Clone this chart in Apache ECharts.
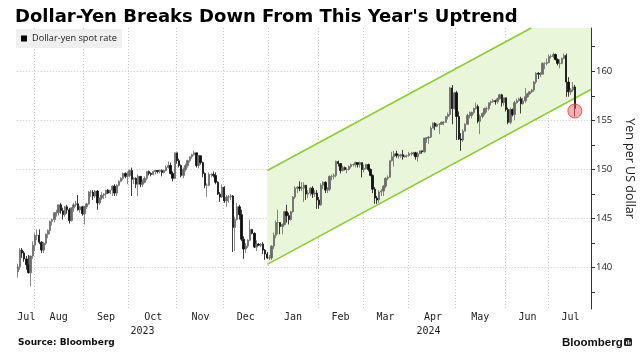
<!DOCTYPE html>
<html>
<head>
<meta charset="utf-8">
<script src="https://cdn.jsdelivr.net/npm/echarts@6.0.0/dist/echarts.min.js"></script>
<style>
html,body{margin:0;padding:0;background:#ffffff;}
#chart{width:644px;height:360px;}
</style>
</head>
<body>
<div id="chart"></div>
<script>
// ---------------- data ----------------
const titleText = "Dollar-Yen Breaks Down From This Year's Uptrend";
const seriesName = 'Dollar-yen spot rate';
const yAxisName = 'Yen per US dollar';
const sourceText = 'Source: Bloomberg';
const brandText = 'Bloomberg';

const firstDate = '2023-07-20';      // first trading day shown
const axisLastDate = '2024-07-26';   // axis runs a little past the data

const monthLabels = ['Jul','Aug','Sep','Oct','Nov','Dec','Jan','Feb','Mar','Apr','May','Jun','Jul'];
const yearLabels = ['2023','2024'];
const yTickValues = [137.5,140,142.5,145,147.5,150,152.5,155,157.5,160,162.5];
const yLabelValues = [140,145,150,155,160];
const yMin = 135.8;
const yMax = 164.4;

const opens = [
139.6,140.1,141.8,141.5,140.9,140.3,139.5,141.2,142.3,143.3,
143.3,142.6,141.8,142.5,143.4,143.8,144.7,144.9,145.6,145.6,
146.4,145.8,145.4,146.2,145.9,144.8,146.1,146.4,146.5,145.9,
146.2,145.5,146.2,146.5,147.7,147.7,147.3,147.8,146.6,147.1,
147.4,147.5,147.9,147.6,147.9,148.3,147.6,148.4,148.8,149.1,
149.6,149.3,149.4,149.9,149.0,149.1,148.5,149.3,148.5,148.7,
149.1,149.8,149.6,149.5,149.8,149.9,149.8,149.9,149.7,149.9,
150.2,150.4,149.6,149.1,151.7,150.9,150.4,149.4,150.0,150.4,
150.9,151.3,151.5,151.7,150.4,151.4,150.7,149.6,148.4,148.4,
149.5,149.5,149.4,148.7,147.5,147.2,148.2,146.8,147.2,147.2,
147.3,144.1,144.9,146.2,145.4,142.9,141.9,142.2,142.8,143.9,
143.5,142.1,142.4,142.3,142.4,141.8,141.4,141.0,141.0,142.2,
143.3,144.6,144.6,144.2,144.4,145.7,145.3,144.9,145.7,147.2,
148.1,148.2,148.1,148.1,148.4,147.5,147.6,148.1,147.5,147.6,
146.9,146.4,148.4,148.7,147.9,148.0,149.3,149.3,149.4,150.8,
150.6,149.9,150.2,150.0,150.0,150.3,150.5,150.5,150.7,150.5,
150.7,150.0,150.1,150.5,150.0,149.4,148.0,147.1,146.9,147.7,
147.8,148.3,149.1,149.2,150.9,151.3,151.6,151.4,151.4,151.5,
151.3,151.4,151.4,151.6,151.6,151.7,151.3,151.6,151.9,151.8,
153.2,153.2,153.3,154.2,154.7,154.4,154.6,154.6,154.8,154.8,
155.4,155.6,158.3,156.2,157.8,155.4,153.1,153.0,153.9,154.6,
155.5,155.5,155.8,156.2,156.4,154.9,155.4,155.7,156.2,156.2,
156.8,156.9,157.0,156.9,157.2,157.6,156.8,157.3,156.1,154.8,
156.1,155.6,156.8,157.0,157.2,156.7,157.0,157.4,157.7,157.9,
158.1,158.9,159.8,159.7,159.7,160.8,160.8,160.9,161.5,161.5,
161.7,161.2,160.8,160.8,161.3,161.6,158.9,157.9,158.1,158.4
];
const highs = [
140.4,142.0,142.0,141.7,141.2,141.3,141.2,142.7,143.5,143.9,
143.9,142.7,142.6,143.5,143.9,144.8,145.0,145.6,145.9,146.4,
146.6,146.1,146.3,146.4,146.1,146.1,146.6,146.8,147.4,146.3,
146.3,146.3,146.6,147.8,147.9,147.9,147.9,147.9,147.1,147.7,
147.6,147.9,148.0,147.9,148.4,148.5,148.5,148.9,149.2,149.7,
149.7,149.8,150.0,150.2,149.2,149.2,149.5,149.3,149.0,149.3,
149.8,149.9,149.7,149.9,149.9,149.9,150.0,150.0,150.0,150.4,
150.8,150.7,149.8,151.7,151.7,151.1,150.5,150.2,150.6,151.0,
151.3,151.6,151.9,151.7,151.4,151.4,150.8,149.7,148.6,149.7,
149.6,149.8,149.7,148.8,147.7,148.5,148.3,147.4,147.4,147.5,
147.4,145.2,146.6,146.4,145.9,143.2,142.5,142.9,144.9,143.9,
143.6,142.8,142.5,142.5,142.6,141.9,141.6,141.3,142.3,143.6,
144.8,145.9,144.6,144.5,145.8,146.4,145.6,145.8,147.3,148.3,
148.3,148.8,148.7,148.7,148.4,147.9,148.2,148.3,147.9,147.9,
147.2,148.6,148.8,148.8,148.2,149.4,149.5,149.6,150.9,150.9,
150.6,150.4,150.3,150.2,150.4,150.6,150.6,150.8,150.7,150.8,
150.7,150.5,150.6,150.6,150.1,149.5,148.2,147.3,147.9,148.0,
148.4,149.2,149.4,150.9,151.8,151.9,151.9,151.6,151.6,152.0,
151.5,151.5,151.8,151.8,151.8,151.8,151.8,151.9,151.9,153.2,
153.3,153.4,154.4,154.8,154.8,154.7,154.7,154.9,154.9,155.4,
155.8,158.4,158.6,157.9,158.0,155.9,153.7,154.1,154.7,155.7,
155.9,155.9,156.3,156.8,156.6,155.6,155.8,156.3,156.4,156.8,
157.0,157.2,157.1,157.3,157.7,157.7,157.3,157.3,156.3,156.3,
156.2,157.0,157.2,157.3,157.4,157.3,158.3,157.8,158.0,158.2,
159.0,159.9,159.9,159.9,160.9,160.9,161.3,161.7,161.7,161.9,
161.8,161.3,161.2,161.4,161.8,161.8,159.4,158.3,158.9,158.6
];
const lows = [
139.0,139.8,141.0,140.6,139.8,139.4,138.1,140.9,141.7,142.8,
142.4,141.5,141.5,142.3,143.0,143.4,144.3,144.6,145.2,145.3,
145.5,144.9,145.2,145.5,144.5,144.7,145.7,146.2,145.8,145.6,
145.3,144.4,146.0,146.4,147.2,146.9,147.1,145.9,146.4,146.9,
147.0,147.1,147.5,147.5,147.3,147.3,147.3,148.3,148.7,148.9,
149.1,148.5,149.2,147.3,148.5,148.1,147.3,148.2,148.2,148.6,
148.9,149.4,149.3,149.4,149.5,149.6,149.6,149.3,149.6,149.8,
150.1,149.5,148.8,149.0,150.6,150.2,149.2,149.1,149.8,150.2,
150.7,151.1,151.4,150.2,150.1,150.5,149.2,148.1,147.2,148.3,
149.2,149.2,148.5,147.4,146.7,147.1,146.6,146.2,146.6,146.9,
141.6,141.7,144.8,144.9,142.7,140.9,141.5,142.0,142.7,143.4,
142.0,141.7,142.2,142.1,141.4,140.8,140.9,140.8,140.8,141.9,
143.0,143.4,143.4,143.4,144.3,144.6,144.4,144.8,145.6,147.0,
147.6,147.8,147.8,146.7,146.9,147.1,147.3,147.1,147.2,146.0,
146.0,146.3,148.0,147.6,147.6,147.8,148.9,149.0,149.2,150.3,
149.6,149.8,149.9,149.6,149.9,150.1,150.3,150.2,150.2,150.2,
149.2,149.7,150.0,149.8,149.3,147.6,146.5,146.5,146.6,147.3,
147.3,148.1,148.9,149.2,150.8,150.3,151.2,151.1,151.2,151.0,
151.2,151.2,151.3,151.4,151.4,151.0,150.8,151.6,151.6,151.7,
152.7,152.6,153.2,154.2,154.0,154.3,153.6,154.6,154.5,154.8,
155.1,155.4,154.6,156.1,153.0,153.0,151.9,152.8,153.9,154.6,
155.2,155.2,155.6,156.1,154.7,153.6,155.2,155.5,155.8,156.0,
156.5,156.8,156.6,156.7,157.1,156.4,156.5,155.9,154.6,154.6,
155.4,155.0,156.7,156.9,155.7,156.6,156.8,157.3,157.6,157.8,
157.9,158.7,159.2,159.4,159.7,160.2,160.6,160.8,161.3,161.3,
161.1,160.6,160.3,160.7,161.2,157.4,157.4,157.6,157.9,155.4
];
const closes = [
140.1,141.8,141.5,140.9,140.3,139.5,141.2,142.3,143.3,143.3,
142.6,141.8,142.5,143.4,143.8,144.7,144.9,145.6,145.6,146.4,
145.8,145.4,146.2,145.9,144.8,146.1,146.4,146.5,145.9,146.2,
145.5,146.2,146.5,147.7,147.7,147.3,147.8,146.6,147.1,147.4,
147.5,147.9,147.6,147.9,148.3,147.6,148.4,148.8,149.1,149.6,
149.3,149.4,149.9,149.0,149.1,148.5,149.3,148.5,148.7,149.1,
149.8,149.6,149.5,149.8,149.9,149.8,149.9,149.7,149.9,150.2,
150.4,149.6,149.1,151.7,150.9,150.4,149.4,150.0,150.4,150.9,
151.3,151.5,151.7,150.4,151.4,150.7,149.6,148.4,148.4,149.5,
149.5,149.4,148.7,147.5,147.2,148.2,146.8,147.2,147.2,147.3,
144.1,144.9,146.2,145.4,142.9,141.9,142.2,142.8,143.9,143.5,
142.1,142.4,142.3,142.4,141.8,141.4,141.0,141.0,142.2,143.3,
144.6,144.6,144.2,144.4,145.7,145.3,144.9,145.7,147.2,148.1,
148.2,148.1,148.1,148.4,147.5,147.6,148.1,147.5,147.6,146.9,
146.4,148.4,148.7,147.9,148.0,149.3,149.3,149.4,150.8,150.6,
149.9,150.2,150.0,150.0,150.3,150.5,150.5,150.7,150.5,150.7,
150.0,150.1,150.5,150.0,149.4,148.0,147.1,146.9,147.7,147.8,
148.3,149.1,149.2,150.9,151.3,151.6,151.4,151.4,151.5,151.3,
151.4,151.4,151.6,151.6,151.7,151.3,151.6,151.9,151.8,153.2,
153.2,153.3,154.2,154.7,154.4,154.6,154.6,154.8,154.8,155.4,
155.6,158.3,156.2,157.8,155.4,153.1,153.0,153.9,154.6,155.5,
155.5,155.8,156.2,156.4,154.9,155.4,155.7,156.2,156.2,156.8,
156.9,157.0,156.9,157.2,157.6,156.8,157.3,156.1,154.8,156.1,
155.6,156.8,157.0,157.2,156.7,157.0,157.4,157.7,157.9,158.1,
158.9,159.8,159.7,159.7,160.8,160.8,160.9,161.5,161.5,161.7,
161.2,160.8,160.8,161.3,161.6,158.9,157.9,158.1,158.4,156.2
];

// uptrend channel: values at its start and end dates
const channelStartDate = '2023-12-29';
const channelEndDate = '2024-07-26';
const channelLower = [140.35, 158.08];
const channelUpper = [149.9, 167.63];

// highlighted break point
const markerDate = '2024-07-17';
const markerValue = 155.95;

// ---------------- build categories ----------------
function weekdays(from, to) {
  const out = [];
  let t = Date.parse(from + 'T00:00:00Z');
  const end = Date.parse(to + 'T00:00:00Z');
  while (t <= end) {
    const d = new Date(t);
    const w = d.getUTCDay();
    if (w !== 0 && w !== 6) out.push(d.toISOString().slice(0, 10));
    t += 86400000;
  }
  return out;
}
const dates = weekdays(firstDate, axisLastDate);
const candles = dates.map((d, i) => i < closes.length ? [opens[i], closes[i], lows[i], highs[i]] : '-');

const monthStart = new Set();
const monthLabelAt = {};
const yearLabelAt = {};
(function () {
  const groups = [];
  const ygroups = [];
  dates.forEach((d, i) => {
    const m = d.slice(0, 7), y = d.slice(0, 4);
    if (!groups.length || groups[groups.length - 1].key !== m) {
      groups.push({ key: m, first: i, last: i });
      if (i > 0) monthStart.add(i);
    } else groups[groups.length - 1].last = i;
    if (!ygroups.length || ygroups[ygroups.length - 1].key !== y) ygroups.push({ key: y, first: i, last: i });
    else ygroups[ygroups.length - 1].last = i;
  });
  groups.forEach((g, k) => { monthLabelAt[Math.round((g.first + g.last) / 2)] = monthLabels[k]; });
  ygroups.forEach((g, k) => { yearLabelAt[Math.floor((g.first + g.last) / 2)] = yearLabels[k]; });
})();

const chStartIdx = dates.indexOf(channelStartDate);
const chEndIdx = dates.indexOf(channelEndDate);
const markerIdx = dates.indexOf(markerDate);

function renderChannel(params, api) {
  const cs = params.coordSys;
  const L0 = api.coord([chStartIdx, channelLower[0]]);
  const L1 = api.coord([chEndIdx, channelLower[1]]);
  const U0 = api.coord([chStartIdx, channelUpper[0]]);
  const U1 = api.coord([chEndIdx, channelUpper[1]]);
  const right = cs.x + cs.width, top = cs.y;
  const sL = (L1[1] - L0[1]) / (L1[0] - L0[0]);
  const sU = (U1[1] - U0[1]) / (U1[0] - U0[0]);
  const Lr = [right, L0[1] + sL * (right - L0[0])];
  let Uend = [right, U0[1] + sU * (right - U0[0])];
  const poly = [U0];
  if (Uend[1] < top) {
    Uend = [U0[0] + (top - U0[1]) / sU, top];
    poly.push(Uend, [right, top]);
  } else poly.push(Uend);
  poly.push(Lr, L0);
  return {
    type: 'group',
    children: [
      { type: 'polygon', shape: { points: poly }, style: { fill: '#e9f6d9' } },
      { type: 'polyline', shape: { points: [U0, Uend] }, style: { stroke: '#8dcb35', lineWidth: 1.5, fill: null } },
      { type: 'polyline', shape: { points: [L0, Lr] }, style: { stroke: '#8dcb35', lineWidth: 1.5, fill: null } }
    ]
  };
}

const gridLine = { color: '#c6c6c6', width: 1, type: [1, 2] };

const chart = echarts.init(document.getElementById('chart'), null, { renderer: 'canvas' });
chart.setOption({
  animation: false,
  backgroundColor: '#ffffff',
  title: {
    text: titleText,
    left: 15, top: 8, padding: 0,
    textStyle: { fontFamily: 'DejaVu Sans', fontWeight: 'bold', fontSize: 18, color: '#000' }
  },
  legend: {
    data: [{ name: seriesName, icon: 'rect', itemStyle: { color: '#000', borderWidth: 0 } }],
    left: 16, top: 29,
    padding: [5, 5, 5, 5],
    itemWidth: 6, itemHeight: 6,
    backgroundColor: '#efefef',
    selectedMode: false,
    textStyle: { fontFamily: 'Open Sans', fontSize: 9.2, color: '#222' }
  },
  grid: { left: 16.7, right: 50.5, top: 28, bottom: 51, show: false },
  xAxis: [
    {
      type: 'category', data: dates, boundaryGap: true,
      axisLine: { show: false }, axisTick: { show: false },
      axisLabel: {
        interval: (i) => monthLabelAt[i] !== undefined,
        formatter: (v, i) => monthLabelAt[i] || '',
        fontFamily: 'DejaVu Sans Mono', fontSize: 10, color: '#222', margin: 3
      },
      splitLine: { show: true, interval: (i) => monthStart.has(i), lineStyle: gridLine }
    },
    {
      type: 'category', data: dates, boundaryGap: true, position: 'bottom', offset: 14,
      axisLine: { show: false }, axisTick: { show: false }, splitLine: { show: false },
      axisLabel: {
        interval: (i) => yearLabelAt[i] !== undefined,
        formatter: (v, i) => yearLabelAt[i] || '',
        fontFamily: 'DejaVu Sans Mono', fontSize: 10, color: '#222', margin: 3
      }
    }
  ],
  yAxis: [
    {
      type: 'value', position: 'right', min: yMin, max: yMax,
      axisLine: { show: true, lineStyle: { color: '#333', width: 1 } },
      axisTick: { show: false }, axisLabel: { show: false },
      splitLine: { show: true, showMinLine: false, showMaxLine: false, lineStyle: gridLine },
      name: yAxisName, nameLocation: 'middle', nameGap: 32, nameRotate: -90,
      nameTextStyle: { fontFamily: 'Open Sans', fontSize: 12.5, color: '#222' }
    },
    {
      type: 'value', position: 'right', min: yMin, max: yMax,
      axisLine: { show: false },
      axisTick: { show: true, length: 4, customValues: yTickValues, lineStyle: { color: '#333' } },
      axisLabel: { show: true, customValues: yLabelValues, margin: 5, fontFamily: 'Open Sans', fontSize: 9.5, color: '#222' },
      splitLine: { show: false }
    }
  ],
  series: [
    {
      type: 'custom', name: 'channel', silent: true, z: 1,
      xAxisIndex: 0, yAxisIndex: 0,
      renderItem: renderChannel,
      data: [[chStartIdx, channelLower[0]]]
    },
    {
      type: 'candlestick', name: seriesName, z: 3,
      xAxisIndex: 0, yAxisIndex: 0,
      data: candles,
      barWidth: 1.9,
      itemStyle: {
        color: '#6a6a6a', color0: '#0d0d0d',
        borderColor: '#6a6a6a', borderColor0: '#0d0d0d',
        borderWidth: 0.8
      }
    },
    {
      type: 'scatter', name: 'break', z: 4,
      xAxisIndex: 0, yAxisIndex: 0,
      data: [[markerIdx, markerValue]],
      symbolSize: 14,
      itemStyle: { color: 'rgba(240,90,90,0.6)', borderColor: '#e0393c', borderWidth: 1 },
      silent: true
    }
  ],
  graphic: [
    { type: 'text', left: 18, top: 338, style: { text: sourceText, font: 'bold 9px "DejaVu Sans"', fill: '#111' } },
    { type: 'text', left: 562, top: 337, style: { text: brandText, font: 'bold 11.5px "Liberation Sans"', fill: '#111' } },
    {
      type: 'group', left: 624, top: 338,
      children: [
        { type: 'rect', shape: { x: 0, y: 0, width: 8, height: 8, r: 1.5 }, style: { fill: '#222' } },
        { type: 'rect', shape: { x: 2, y: 3.5, width: 1, height: 3 }, style: { fill: '#fff' } },
        { type: 'rect', shape: { x: 3.8, y: 2, width: 1, height: 4.5 }, style: { fill: '#fff' } },
        { type: 'rect', shape: { x: 5.6, y: 4, width: 1, height: 2.5 }, style: { fill: '#fff' } }
      ]
    }
  ]
});
</script>
</body>
</html>
